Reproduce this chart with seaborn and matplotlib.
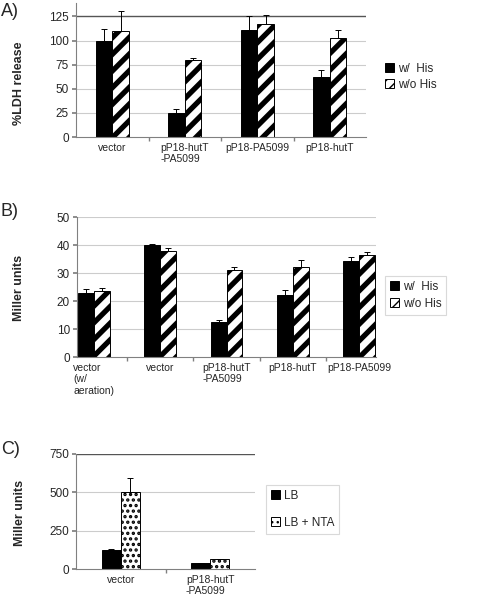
import numpy as np
import pandas as pd
import matplotlib.pyplot as plt
import seaborn as sns
from matplotlib.patches import Patch

# Panel A: %LDH release
a_cats = ['vector', 'pP18-hutT\n-PA5099', 'pP18-PA5099', 'pP18-hutT']
a_with = [100, 24.5, 111.5, 62.5]
a_without = [109.5, 80, 117, 103]
a_with_err = [12.5, 5, 13.5, 7.5]
a_without_err = [21.5, 2, 9.5, 7.5]

# Panel B: Miller units
b_cats = ['vector\n(w/\naeration)', 'vector', 'pP18-hutT\n-PA5099', 'pP18-hutT', 'pP18-PA5099']
b_with = [23, 40, 12.5, 22, 34.2]
b_without = [23.7, 37.8, 31, 32.3, 36.5]
b_with_err = [1.3, 0.3, 0.7, 2, 1.6]
b_without_err = [1, 1.2, 1.2, 2.3, 1.1]

his_labels = ['w/  His', 'w/o His']

# Panel C: Miller units, LB vs LB + NTA
c_cats = ['vector', 'pP18-hutT\n-PA5099']
c_lb = [121, 37]
c_nta = [500, 65]
c_lb_err = [7, 5]
c_nta_err = [95, 3]
nta_labels = ['LB', 'LB + NTA']

sns.set_theme(style='white')
plt.rcParams['font.family'] = ['Liberation Sans', 'DejaVu Sans']
plt.rcParams['hatch.color'] = 'black'

W, H = 478, 596
fig = plt.figure(figsize=(W / 100, H / 100), dpi=100)


def px_axes(left, top, right, bottom):
    return fig.add_axes([left / W, 1 - bottom / H, (right - left) / W, (bottom - top) / H])


def draw_panel(ax, cats, v1, v2, e1, e2, labels, width, hatch, hatch_lw):
    n = len(cats)
    df = pd.DataFrame({'cat': cats * 2,
                       'cond': [labels[0]] * n + [labels[1]] * n,
                       'val': v1 + v2})
    sns.barplot(data=df, x='cat', y='val', hue='cond', order=cats, hue_order=labels,
                palette=['black', 'white'], saturation=1, edgecolor='black',
                linewidth=0.7, width=width, gap=0, errorbar=None, legend=False, ax=ax)
    for bar in ax.containers[1]:
        bar.set_hatch(hatch)
        if hasattr(bar, 'set_hatch_linewidth'):
            bar.set_hatch_linewidth(hatch_lw)
    # upper error bars only
    for cont, errs in zip(ax.containers, [e1, e2]):
        for bar, e in zip(cont, errs):
            x = bar.get_x() + bar.get_width() / 2
            ax.errorbar(x, bar.get_height(), yerr=[[0], [e]], fmt='none', ecolor='black',
                        elinewidth=0.7, capsize=2.5, capthick=0.7, zorder=3)
    ax.set_xlabel('')
    ax.set_ylabel('')
    for s in ['top', 'right']:
        ax.spines[s].set_visible(False)
    for s in ['left', 'bottom']:
        ax.spines[s].set_color('#808080')
        ax.spines[s].set_linewidth(0.8)
    ax.set_xticks(np.arange(n - 1) + 0.5, minor=True)
    ax.tick_params(axis='x', which='major', length=0, labelsize=7.5, pad=4)
    ax.tick_params(axis='x', which='minor', length=3, color='#808080', bottom=True)
    ax.tick_params(axis='y', length=3, color='#808080', labelsize=8.5, pad=2, left=True)
    for lab in ax.get_xticklabels():
        lab.set_multialignment('left')


def legend(ax, labels, hatch, hatch_lw, x, y, frame, spacing):
    h2 = Patch(facecolor='white', edgecolor='black', hatch=hatch, linewidth=0.7)
    if hasattr(h2, 'set_hatch_linewidth'):
        h2.set_hatch_linewidth(hatch_lw)
    handles = [Patch(facecolor='black', edgecolor='black', linewidth=0.7), h2]
    leg = ax.legend(handles, labels, loc='upper left', bbox_to_anchor=(x / W, 1 - y / H),
                    bbox_transform=fig.transFigure, frameon=frame, fancybox=False,
                    fontsize=8.5, handlelength=0.8, handleheight=0.8, handletextpad=0.3,
                    labelspacing=spacing, borderpad=0.4, borderaxespad=0)
    if frame:
        leg.get_frame().set_edgecolor('#d0d0d0')
        leg.get_frame().set_linewidth(0.8)
    return leg


# A
axA = px_axes(76, 3, 366, 137)
draw_panel(axA, a_cats, a_with, a_without, a_with_err, a_without_err,
           his_labels, 0.46, '//', 3.8)
axA.set_xlim(-0.5, 3.5)
axA.set_ylim(0, 139)
axA.set_yticks([0, 25, 50, 75, 100, 125])
for t in [25, 50, 75, 100]:
    axA.axhline(t, color='#cccccc', lw=0.8, zorder=0)
axA.axhline(125, color='#555555', lw=1, zorder=0)
legend(axA, his_labels, '///', 4, 380, 58, False, 0.35)

# B
axB = px_axes(77, 217, 376, 357)
draw_panel(axB, b_cats, b_with, b_without, b_with_err, b_without_err,
           his_labels, 0.48, '//', 3.8)
axB.set_xlim(-0.25, 4.25)
axB.set_ylim(0, 50)
axB.set_yticks([0, 10, 20, 30, 40, 50])
for t in [10, 20, 30, 40, 50]:
    axB.axhline(t, color='#cccccc', lw=0.8, zorder=0)
legend(axB, his_labels, '//', 4, 385, 276, True, 0.45)

# C
axC = px_axes(76, 454, 255, 569)
draw_panel(axC, c_cats, c_lb, c_nta, c_lb_err, c_nta_err,
           nta_labels, 0.43, '...', 1.6)
axC.set_xlim(-0.5, 1.5)
axC.set_ylim(0, 750)
axC.set_yticks([0, 250, 500, 750])
for t in [250, 500]:
    axC.axhline(t, color='#cccccc', lw=0.8, zorder=0)
axC.axhline(750, color='#555555', lw=1, zorder=0)
legend(axC, nta_labels, '...', 1.6, 266, 485, True, 1.3)

# y labels and panel letters
fig.text(19 / W, 1 - 83.5 / H, '%LDH release', rotation=90, ha='center', va='center',
         fontsize=9, fontweight='bold')
fig.text(19.5 / W, 1 - 287.6 / H, 'Miller units', rotation=90, ha='center', va='center',
         fontsize=9, fontweight='bold')
fig.text(20 / W, 1 - 513 / H, 'Miller units', rotation=90, ha='center', va='center',
         fontsize=9, fontweight='bold')
for letter, yc in [('A)', 11), ('B)', 212), ('C)', 449.5)]:
    fig.text(1 / W, 1 - yc / H, letter, ha='left', va='center', fontsize=13)

fig.savefig('out.png', dpi=100)
